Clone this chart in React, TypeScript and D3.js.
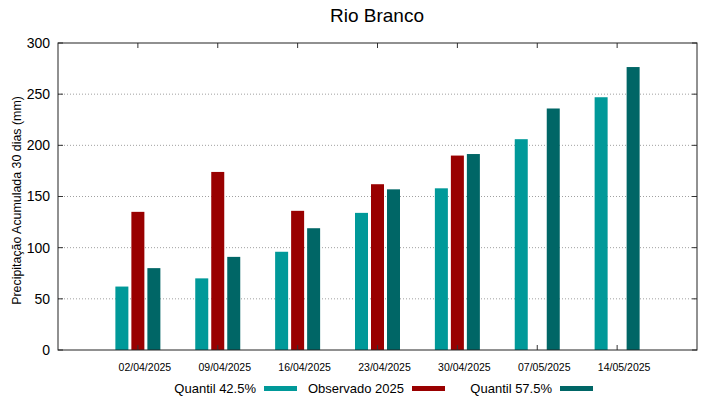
import React, { useEffect, useRef } from "react";
import * as d3 from "d3";

const datas = ["02/04/2025", "09/04/2025", "16/04/2025", "23/04/2025", "30/04/2025", "07/05/2025", "14/05/2025"];
const quantil425 = [62, 70, 96, 134, 158, 206, 247];
const observado = [135, 174, 136, 162, 190, null, null];
const quantil575 = [80, 91, 119, 157, 191.5, 236, 276.5];
const yTicks = [0, 50, 100, 150, 200, 250, 300];

const series = [
  { name: "Quantil 42.5%", values: quantil425, color: "#009999", off: -16 },
  { name: "Observado 2025", values: observado, color: "#990000", off: 0 },
  { name: "Quantil 57.5%", values: quantil575, color: "#006666", off: 16 },
];

const font = "Liberation Sans, Arial, sans-serif";

export default function App() {
  const ref = useRef<SVGSVGElement>(null);

  useEffect(() => {
    const margin = { top: 43, right: 22, bottom: 49, left: 58 };
    const W = 719, H = 399;
    const w = W - margin.left - margin.right;
    const h = H - margin.top - margin.bottom;

    const svg = d3.select(ref.current);
    svg.selectAll("*").remove();
    svg.append("rect").attr("width", W).attr("height", H).attr("fill", "white");

    const g = svg.append("g").attr("transform", `translate(${margin.left},${margin.top})`);

    // x: categories at 1..7, domain 0..8
    const x = d3.scaleLinear().domain([0, datas.length + 1]).range([0, w]);
    const y = d3.scaleLinear().domain([0, 300]).range([h, 0]);
    const bw = 13;

    // grid
    g.selectAll(".grid")
      .data(yTicks.filter((t) => t > 0 && t < 300))
      .join("line")
      .attr("x1", 0).attr("x2", w)
      .attr("y1", (d) => y(d)).attr("y2", (d) => y(d))
      .attr("stroke", "#a0a0a0").attr("stroke-width", 1)
      .attr("stroke-dasharray", "1,2");

    // bars
    series.forEach((s) => {
      g.selectAll(null)
        .data(s.values.map((v, i) => ({ v, i })).filter((d) => d.v != null))
        .join("rect")
        .attr("x", (d) => x(d.i + 1) + s.off - bw / 2)
        .attr("y", (d) => y(d.v as number))
        .attr("width", bw)
        .attr("height", (d) => h - y(d.v as number))
        .attr("fill", s.color);
    });

    // ticks (inward, gnuplot style)
    yTicks.forEach((t) => {
      g.append("line").attr("x1", 0).attr("x2", 5).attr("y1", y(t)).attr("y2", y(t)).attr("stroke", "#333");
      g.append("line").attr("x1", w).attr("x2", w - 5).attr("y1", y(t)).attr("y2", y(t)).attr("stroke", "#333");
      g.append("text")
        .attr("x", -8).attr("y", y(t)).attr("dy", "0.35em")
        .attr("text-anchor", "end")
        .attr("font-family", font).attr("font-size", 14)
        .text(t);
    });
    datas.forEach((d, i) => {
      g.append("line").attr("x1", x(i + 1)).attr("x2", x(i + 1)).attr("y1", h).attr("y2", h - 5).attr("stroke", "#333");
      g.append("line").attr("x1", x(i + 1)).attr("x2", x(i + 1)).attr("y1", 0).attr("y2", 5).attr("stroke", "#333");
      g.append("text")
        .attr("x", x(i + 1) + 7).attr("y", h + 21)
        .attr("text-anchor", "middle")
        .attr("font-family", font).attr("font-size", 10.5)
        .text(d);
    });

    // frame
    g.append("rect").attr("width", w).attr("height", h)
      .attr("fill", "none").attr("stroke", "#222").attr("stroke-width", 1);

    // title
    svg.append("text")
      .attr("x", 377).attr("y", 22)
      .attr("text-anchor", "middle")
      .attr("font-family", font).attr("font-size", 19)
      .text("Rio Branco");

    // y label
    svg.append("text")
      .attr("transform", `translate(21,200.5) rotate(-90)`)
      .attr("text-anchor", "middle")
      .attr("font-family", font).attr("font-size", 12.4)
      .text("Precipitação Acumulada 30 dias (mm)");

    // legend
    const legX = [256, 404, 552];
    series.forEach((s, i) => {
      svg.append("text")
        .attr("x", legX[i]).attr("y", 393)
        .attr("text-anchor", "end")
        .attr("font-family", font).attr("font-size", 13)
        .text(s.name);
      svg.append("rect")
        .attr("x", legX[i] + 8).attr("y", 386)
        .attr("width", 33).attr("height", 5)
        .attr("fill", s.color);
    });
  }, []);

  return <svg ref={ref} width={719} height={399} style={{ display: "block", position: "absolute", left: 0, top: 0 }} />;
}
